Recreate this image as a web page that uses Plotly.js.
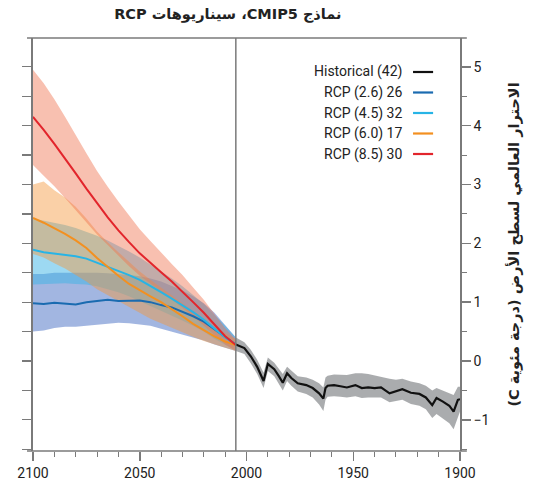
<!DOCTYPE html>
<html>
<head>
<meta charset="utf-8">
<script src="https://cdn.plot.ly/plotly-3.0.1.min.js"></script>
<style>html,body{margin:0;padding:0;background:#fff;}#chart{width:536px;height:486px;}</style>
</head>
<body>
<div id="chart"></div>
<script>
// ---- Historical (1900-2005) ----
const histYears = [1900,1901,1903,1905,1908,1911,1913,1916,1919,1923,1927,1930,1933,1937,1940,1943,1946,1949,1953,1956,1959,1962,1963,1964,1966,1969,1972,1976,1979,1981,1983,1985,1987,1990,1992,1995,1998,2001,2005];
const histMean  = [-0.65,-0.66,-0.86,-0.76,-0.69,-0.63,-0.75,-0.62,-0.56,-0.54,-0.48,-0.52,-0.55,-0.45,-0.46,-0.45,-0.46,-0.41,-0.45,-0.43,-0.41,-0.42,-0.46,-0.64,-0.55,-0.46,-0.41,-0.38,-0.29,-0.21,-0.37,-0.25,-0.14,-0.05,-0.34,-0.10,0.08,0.22,0.28];
const histHi    = [-0.44,-0.44,-0.58,-0.55,-0.50,-0.46,-0.50,-0.42,-0.38,-0.35,-0.30,-0.32,-0.30,-0.27,-0.24,-0.22,-0.21,-0.21,-0.24,-0.24,-0.23,-0.25,-0.28,-0.45,-0.38,-0.32,-0.28,-0.26,-0.17,-0.10,-0.22,-0.13,-0.03,0.06,-0.20,0.02,0.19,0.32,0.40];
const histLo    = [-0.86,-0.95,-1.16,-1.06,-0.98,-0.90,-0.97,-0.82,-0.76,-0.73,-0.66,-0.68,-0.70,-0.62,-0.62,-0.62,-0.63,-0.60,-0.62,-0.61,-0.60,-0.61,-0.66,-0.85,-0.74,-0.62,-0.56,-0.52,-0.42,-0.34,-0.50,-0.38,-0.26,-0.17,-0.46,-0.22,-0.04,0.12,0.17];

// ---- RCP projections (2005-2100) ----
const rcpYears = [2005,2010,2015,2020,2025,2030,2035,2040,2045,2050,2055,2060,2065,2070,2075,2080,2085,2090,2095,2100];
const rcp26   = [0.28,0.41,0.54,0.67,0.76,0.84,0.91,0.95,1.00,1.03,1.03,1.02,1.04,1.02,1.00,0.96,0.97,0.99,0.97,0.98];
const rcp26Lo = [0.17,0.22,0.28,0.35,0.40,0.45,0.50,0.55,0.60,0.62,0.64,0.65,0.63,0.62,0.60,0.58,0.58,0.56,0.52,0.50];
const rcp26Hi = [0.40,0.62,0.82,0.98,1.10,1.20,1.28,1.35,1.40,1.44,1.46,1.48,1.49,1.50,1.50,1.50,1.49,1.50,1.48,1.48];
const rcp45   = [0.28,0.40,0.55,0.70,0.83,0.95,1.06,1.17,1.28,1.38,1.46,1.53,1.59,1.67,1.74,1.78,1.80,1.82,1.85,1.89];
const rcp45Lo = [0.18,0.28,0.38,0.50,0.60,0.69,0.78,0.86,0.94,1.02,1.10,1.17,1.22,1.27,1.30,1.31,1.32,1.32,1.31,1.30];
const rcp45Hi = [0.40,0.60,0.78,0.97,1.12,1.27,1.40,1.52,1.64,1.76,1.86,1.96,2.05,2.13,2.20,2.26,2.31,2.35,2.39,2.42];
const rcp60   = [0.27,0.33,0.42,0.52,0.63,0.76,0.88,1.00,1.10,1.20,1.31,1.45,1.60,1.75,1.92,2.05,2.16,2.26,2.35,2.43];
const rcp60Lo = [0.17,0.22,0.28,0.34,0.41,0.49,0.56,0.64,0.72,0.82,0.92,1.02,1.12,1.22,1.35,1.46,1.57,1.66,1.76,1.82];
const rcp60Hi = [0.37,0.47,0.58,0.72,0.85,0.98,1.12,1.25,1.38,1.52,1.68,1.85,2.02,2.20,2.42,2.62,2.78,2.90,3.05,3.00];
const rcp85   = [0.27,0.42,0.62,0.82,1.00,1.18,1.35,1.51,1.67,1.83,2.02,2.22,2.44,2.68,2.93,3.19,3.45,3.69,3.93,4.15];
const rcp85Lo = [0.17,0.28,0.44,0.60,0.76,0.90,1.05,1.19,1.32,1.45,1.61,1.79,1.97,2.15,2.36,2.56,2.77,2.97,3.15,3.33];
const rcp85Hi = [0.37,0.56,0.80,1.04,1.25,1.46,1.65,1.84,2.04,2.24,2.47,2.71,2.96,3.23,3.53,3.85,4.15,4.45,4.72,4.95];

// ---- Labels ----
const legendLabels = ["Historical (42)", "RCP (2.6) 26", "RCP (4.5) 32", "RCP (6.0) 17", "RCP (8.5) 30"];
const legendColors = ["#111111", "#1a6bb0", "#27b4e6", "#f39020", "#e2252c"];
const xTickVals = [2100, 2050, 2000, 1950, 1900];
const chartTitle = "\u202Bنماذج CMIP5، سيناريوهات RCP\u202C";
const yTitle = "\u202Bالاحترار العالمي لسطح الأرض (درجة مئوية C)\u202C";

function band(xs, lo, hi, color, yaxis) {
  return {
    x: xs.concat(xs.slice().reverse()),
    y: hi.concat(lo.slice().reverse()),
    type: 'scatter', mode: 'lines', fill: 'toself', fillcolor: color,
    line: {width: 0}, hoverinfo: 'skip', showlegend: false, yaxis: yaxis || 'y'
  };
}
function line(xs, ys, color, w, yaxis) {
  return {x: xs, y: ys, type: 'scatter', mode: 'lines',
    line: {color: color, width: w}, showlegend: false, yaxis: yaxis || 'y'};
}

const traces = [
  band(rcpYears, rcp26Lo, rcp26Hi, 'rgba(70,110,195,0.5)'),
  band(rcpYears, rcp45Lo, rcp45Hi, 'rgba(60,180,230,0.5)'),
  band(rcpYears, rcp60Lo, rcp60Hi, 'rgba(245,150,60,0.45)'),
  band(rcpYears, rcp85Lo, rcp85Hi, 'rgba(240,115,80,0.45)'),
  line(rcpYears, rcp26, legendColors[1], 2),
  line(rcpYears, rcp45, legendColors[2], 2),
  line(rcpYears, rcp60, legendColors[3], 2),
  line(rcpYears, rcp85, legendColors[4], 2),
  band(histYears, histLo, histHi, 'rgba(125,128,131,0.65)', 'y2'),
  line(histYears, histMean, legendColors[0], 2.2, 'y2')
];

const yRange = [-1.53, 5.49];
const axisCol = '#7a7a7a';

const shapes = [
  {type:'line', xref:'paper', yref:'paper', x0:-0.014, x1:1.016, y0:0, y1:0, line:{color:axisCol, width:1.6}},
  {type:'line', xref:'paper', yref:'paper', x0:-0.014, x1:1.016, y0:1, y1:1, line:{color:axisCol, width:1.6}},
  {type:'line', xref:'x', yref:'paper', x0:2005, x1:2005, y0:0, y1:1, line:{color:axisCol, width:1.5}}
];
const annotations = [];
const rowPx = [72, 92.5, 113, 133.5, 154];
for (let i = 0; i < legendLabels.length; i++) {
  const yp = (451 - rowPx[i]) / 413;
  annotations.push({xref:'paper', yref:'paper', x:0.869, y:yp, xanchor:'right', yanchor:'middle',
    text: legendLabels[i], showarrow:false, font:{family:'Roboto', size:14, color:'#222'}});
  shapes.push({type:'line', xref:'paper', yref:'paper', x0:0.890, x1:0.937, y0:yp, y1:yp,
    line:{color: legendColors[i], width:2.2}});
}

const layout = {
  width: 536, height: 486,
  margin: {l:33, r:76, t:38, b:35},
  paper_bgcolor:'#fff', plot_bgcolor:'#fff',
  font: {family:'Roboto', size:14, color:'#222'},
  title: {text: chartTitle, x: 0.425, xanchor:'center', y: 0.972, yanchor:'middle',
          font:{family:'DejaVu Sans', size:14.5, color:'#222', weight: 'bold'}},
  showlegend: false,
  xaxis: {range:[2100,1900], tickvals: xTickVals, ticks:'outside', ticklen:9, tickwidth:1.5, tickcolor:axisCol,
    showline:false, zeroline:false, showgrid:false, fixedrange:true,
    tickfont:{family:'Roboto', size:14, color:'#222'},
    minor:{tick0:1900, dtick:10, ticks:'outside', ticklen:5, tickwidth:1, tickcolor:axisCol, showgrid:false}},
  yaxis: {range:yRange, side:'right', tick0:0, dtick:1, ticks:'outside', ticklen:9, tickwidth:1.5, tickcolor:axisCol,
    showline:true, linecolor:axisCol, linewidth:1.6, zeroline:false, showgrid:false,
    tickfont:{family:'Roboto', size:14, color:'#222'},
    minor:{dtick:0.5, ticks:'outside', ticklen:5, tickwidth:1, tickcolor:axisCol, showgrid:false},
    title:{text: yTitle, standoff: 20, font:{family:'DejaVu Sans', size:14.5, color:'#222', weight:'bold'}}},
  yaxis2: {range:yRange, overlaying:'y', side:'left', anchor:'x', tick0:0, dtick:0.5, ticks:'outside', ticklen:9,
    tickwidth:1.2, tickcolor:axisCol, showticklabels:false, showline:true, linecolor:axisCol, linewidth:1.6,
    zeroline:false, showgrid:false},
  shapes: shapes,
  annotations: annotations
};

Plotly.newPlot('chart', traces, layout, {displayModeBar:false, staticPlot:true});
</script>
</body>
</html>
